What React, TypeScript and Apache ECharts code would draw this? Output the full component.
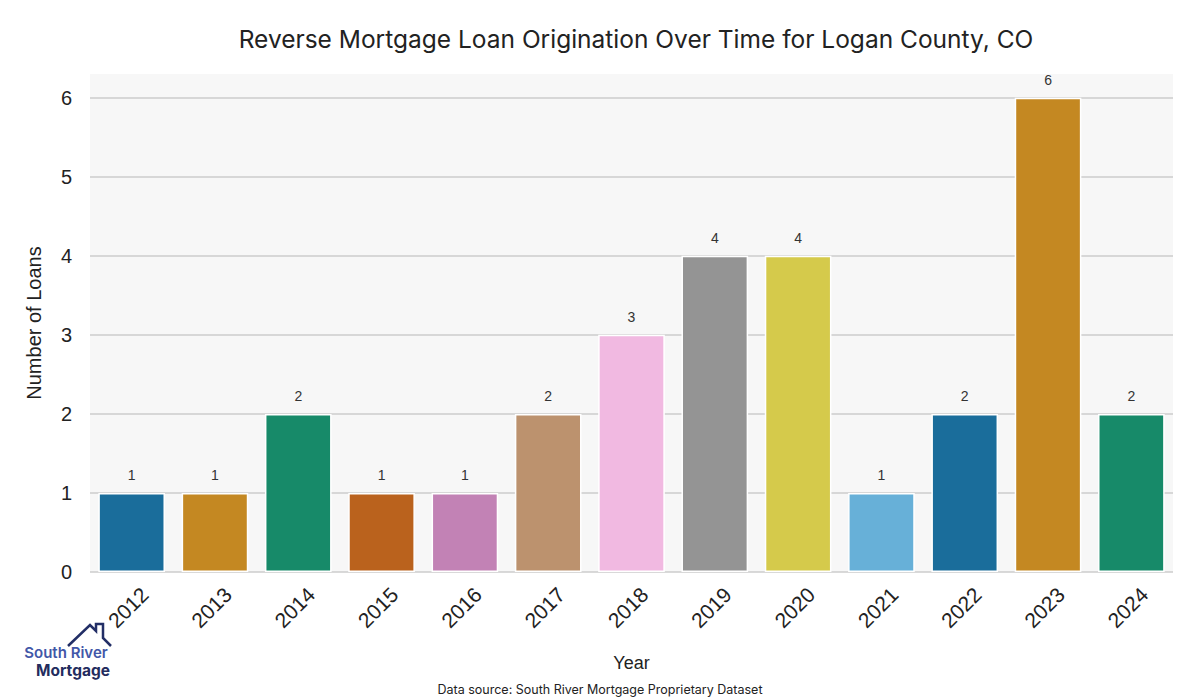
import React, { useEffect, useRef } from "react";
import * as echarts from "echarts";

const years = ["2012", "2013", "2014", "2015", "2016", "2017", "2018", "2019", "2020", "2021", "2022", "2023", "2024"];
const loans = [1, 1, 2, 1, 1, 2, 3, 4, 4, 1, 2, 6, 2];
const palette = ["#1a6d9b", "#c48822", "#178a69", "#ba621d", "#c282b5", "#bc926e", "#f1b9e1", "#949494", "#d5ca4b", "#67b0d8"];
const yTicks = [0, 1, 2, 3, 4, 5, 6];

export default function App() {
  const ref = useRef<HTMLDivElement>(null);
  useEffect(() => {
    if (!ref.current) return;
    const chart = echarts.init(ref.current, undefined, { renderer: "svg" });
    const tickCount = yTicks.length + 1;
    const gridColors = Array.from({ length: tickCount }, (_, i) => (i < yTicks.length ? "#cccccc" : "rgba(0,0,0,0)"));
    chart.setOption({
      animation: false,
      backgroundColor: "#ffffff",
      title: {
        text: "Reverse Mortgage Loan Origination Over Time for Logan County, CO",
        left: 631,
        textAlign: "center",
        top: 21,
        textStyle: { fontFamily: "Inter", fontSize: 24.5, fontWeight: "normal", color: "#222222" },
      },
      grid: {
        left: 90,
        right: 27,
        top: 74,
        bottom: 128,
        show: true,
        backgroundColor: "#f7f7f7",
        borderWidth: 0,
      },
      xAxis: {
        type: "category",
        data: years,
        name: "Year",
        nameLocation: "middle",
        nameGap: 82,
        nameTextStyle: { fontFamily: "Liberation Sans", fontSize: 18, color: "#222222" },
        axisLine: { show: false },
        axisTick: { show: false },
        axisLabel: {
          rotate: 45,
          align: "center",
          verticalAlign: "middle",
          margin: 32,
          fontFamily: "Liberation Sans",
          fontSize: 21,
          color: "#222222",
          interval: 0,
          padding: [0, 10, 0, 0],
        },
      },
      yAxis: {
        type: "value",
        min: 0,
        max: 6.3,
        interval: 1,
        name: "Number of Loans",
        nameLocation: "middle",
        nameGap: 46,
        nameTextStyle: { fontFamily: "Liberation Sans", fontSize: 20, color: "#222222" },
        axisLine: { show: false },
        axisTick: { show: false },
        axisLabel: {
          margin: 18,
          fontFamily: "Liberation Sans",
          fontSize: 20,
          color: "#222222",
          showMaxLabel: false,
          formatter: (v: number) => (Number.isInteger(v) ? String(v) : ""),
        },
        splitLine: { show: true, lineStyle: { color: gridColors, width: 1.5 } },
      },
      series: [
        {
          type: "bar",
          barCategoryGap: "20%",
          data: loans.map((v, i) => ({
            value: v,
            itemStyle: { color: palette[i % palette.length], borderColor: "#ffffff", borderWidth: 1.5 },
          })),
          label: {
            show: true,
            position: "top",
            distance: 11,
            fontFamily: "Liberation Sans",
            fontSize: 14,
            color: "#333333",
          },
        },
      ],
      graphic: [
        {
          type: "polyline",
          shape: { points: [[68, 646], [90, 625], [96, 631], [96, 624], [103, 624], [103, 638], [111, 646]] },
          style: { stroke: "#222e66", lineWidth: 2.5, fill: "none" },
        },
        {
          type: "text",
          x: 66,
          y: 652,
          style: {
            text: "South River",
            fontFamily: "Inter",
            fontSize: 15,
            fontWeight: 600,
            fill: "#4257a8",
            align: "center",
            verticalAlign: "middle",
          },
        },
        {
          type: "text",
          x: 73,
          y: 670,
          style: {
            text: "Mortgage",
            fontFamily: "Inter",
            fontSize: 15.5,
            fontWeight: 700,
            fill: "#232c5e",
            align: "center",
            verticalAlign: "middle",
          },
        },
        {
          type: "text",
          x: 600,
          y: 689,
          style: {
            text: "Data source: South River Mortgage Proprietary Dataset",
            fontFamily: "Inter",
            fontSize: 12.5,
            fill: "#222222",
            align: "center",
            verticalAlign: "middle",
          },
        },
      ],
    });
    return () => chart.dispose();
  }, []);
  return <div ref={ref} style={{ width: 1200, height: 700, position: "absolute", left: 0, top: 0 }} />;
}
